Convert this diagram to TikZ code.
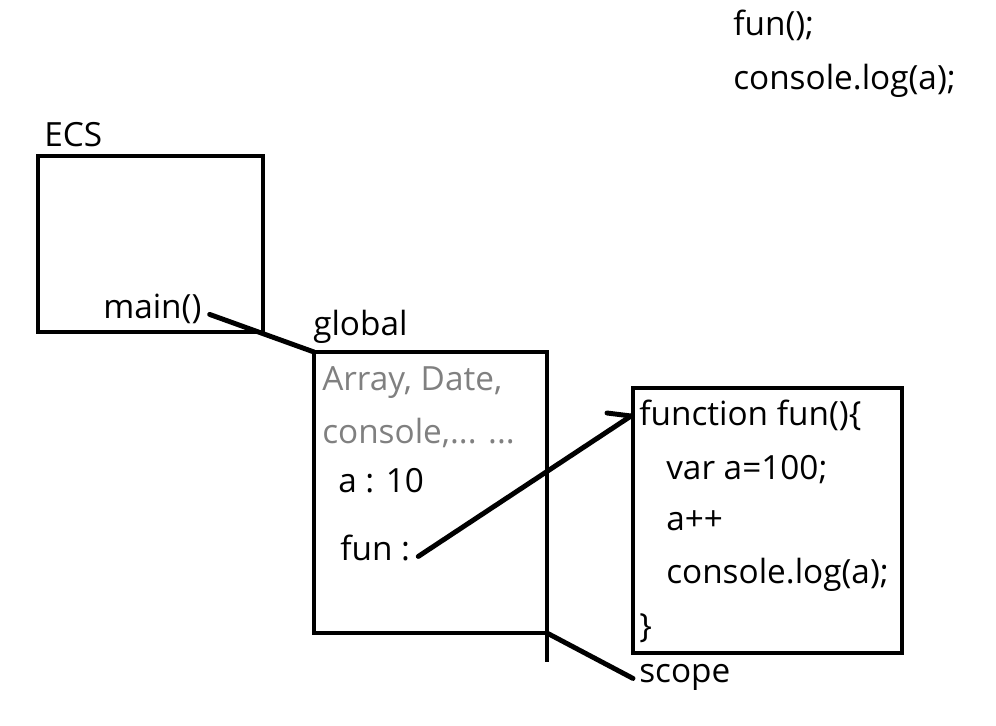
\documentclass[tikz,border=0pt]{standalone}
\usepackage{fontspec}
\setmainfont{Open Sans}
\usetikzlibrary{calc}
\definecolor{builtingray}{RGB}{128,128,128}
\tikzset{
	txt/.style={inner sep=0pt, anchor=base west, font=\fontsize{25}{30}\selectfont},
	frame/.style={draw, line width=1.2mm, inner sep=0pt, outer sep=0pt, anchor=north west},
	wire/.style={line width=1.3mm, line cap=round}
}

\begin{document}
\begin{tikzpicture}[x=0.75pt, y=-0.75pt]
			%%%%% START %%%%%
			\useasboundingbox (0, 0) rectangle (996, 725);
			
			\node[txt] (callfun) at (733, 35) {fun();};
			\node[txt] (calllog) at (733, 89) {console.log(a);};
			
			\node[txt] (ecslbl) at (44, 146) {ECS};
			\node[frame, minimum width=168.75pt, minimum height=132pt] (ecsbox) at (38, 156) {};
			\node[txt] (mainlbl) at (103, 318) {main()};
			
			\node[txt] (globallbl) at (313, 335) {global};
			\node[frame, minimum width=174.75pt, minimum height=210.75pt] (globalbox) at (314, 352) {};
			\node[txt, text=builtingray] (builtin1) at (322, 390) {Array, Date,};
			\node[txt, text=builtingray] (builtin2) at (322, 443) {console,... ...};
			\node[txt] (varlbl) at (338, 492) {a : 10};
			\node[txt] (funlbl) at (340, 560) {fun :};
			
			\node[frame, minimum width=201.75pt, minimum height=198.75pt] (fnbox) at (633, 388) {};
			\node[txt] (fnhead) at (639, 425) {function fun()\{};
			\node[txt] (fnline1) at (666, 479) {var a=100;};
			\node[txt] (fnline2) at (666, 530) {a++};
			\node[txt] (fnline3) at (666, 583) {console.log(a);};
			\node[txt] (fnend) at (639, 637) {\}};
			\node[txt] (scopelbl) at (639, 682) {scope};
			
			\draw[wire] ($(mainlbl.mid east)+(8, 0)$) -- (globalbox.north west);
			
			\coordinate (fnptr) at ($(fnbox.north west)+(-2, 28)$);
			\draw[wire] ($(funlbl.mid east)+(8, 0)$) -- (fnptr);
			\draw[wire] ($(fnptr)+(-24, -3)$) -- (fnptr);
			
			\draw[line width=1.2mm] (globalbox.south east) -- ++(0, 29);
			\draw[wire] (globalbox.south east) -- ($(scopelbl.mid west)+(-6, 0)$);
			
			%%%%% END %%%%%
		\end{tikzpicture}
\end{document}
